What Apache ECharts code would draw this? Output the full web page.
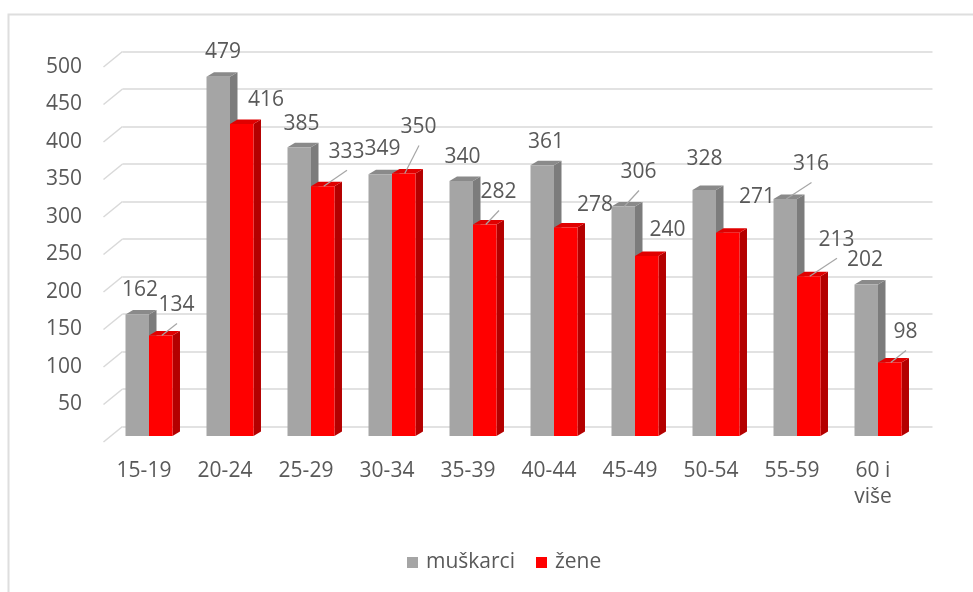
<!DOCTYPE html>
<html>
<head>
<meta charset="utf-8">
<script src="https://cdn.jsdelivr.net/npm/echarts@6/dist/echarts.min.js"></script>
<style>
html,body{margin:0;padding:0;background:#fff;}
#chart{width:973px;height:592px;}
</style>
</head>
<body>
<div id="chart"></div>
<script>
// ---- data ----
const categories = ['15-19','20-24','25-29','30-34','35-39','40-44','45-49','50-54','55-59','60 i\nviše'];
const muskarci = [162,479,385,349,340,361,306,328,316,202];
const zene     = [134,416,333,350,282,278,240,271,213,98];
const yTicks   = [0,50,100,150,200,250,300,350,400,450,500];
const seriesNames = ['muškarci','žene'];

// ---- layout / style (label nudges relative to category centre & bar top, in px) ----
const labelNudgeM = [[-10,-24],[-8,-25],[-10.5,-23],[-10.5,-25],[-11.5,-23.5],[-9,-23],[2.5,-34],[-12.5,-30.5],[13,-34.5],[-14,-24]];
const leaderM     = [0,0,0,0,0,0,1,0,1,0];
const labelNudgeZ = [[26.5,-30],[35,-24],[34.5,-34],[25.5,-46],[24.5,-32],[40,-22.5],[31.5,-25.5],[40,-36],[38.5,-36],[26.5,-30]];
const leaderZ     = [1,0,1,1,1,0,0,0,1,1];

const FONT = 'Open Sans';
const TXT = '#595959';
const GRID = '#d9d9d9';
const DEPTH = [7.5,-4.5];
const palette = [
  {front:'#a5a5a5', side:'#7c7c7c', top:'#8a8a8a'},
  {front:'#ff0000', side:'#b40000', top:'#e00000'}
];

function barRender(kind){
  return function(params, api){
    const i = api.value(0), v = api.value(1);
    const base = api.coord([i,0]);
    const top = api.coord([i,v]);
    const band = api.size([1,0])[0];
    const w = band*0.29;
    const x0 = kind===0 ? base[0]-w-1 : base[0]-1;
    const x1 = x0 + w;
    const b = base[1], t = top[1];
    const c = palette[kind];
    const dx = DEPTH[0], dy = DEPTH[1];
    return {type:'group', children:[
      {type:'polygon', shape:{points:[[x1,t],[x1+dx,t+dy],[x1+dx,b+dy],[x1,b]]}, style:{fill:c.side}},
      {type:'polygon', shape:{points:[[x0,t],[x0+dx,t+dy],[x1+dx,t+dy],[x1,t]]}, style:{fill:c.top}},
      {type:'rect', shape:{x:x0,y:t,width:w,height:b-t}, style:{fill:c.front}}
    ]};
  };
}

function labelRender(kind){
  const nudges = kind===0 ? labelNudgeM : labelNudgeZ;
  const leaders = kind===0 ? leaderM : leaderZ;
  return function(params, api){
    const i = api.value(0), v = api.value(1);
    const base = api.coord([i,0]);
    const top = api.coord([i,v]);
    const band = api.size([1,0])[0];
    const w = band*0.29;
    const barC = kind===0 ? base[0]-1-w/2 : base[0]-1+w/2;
    const lx = base[0] + nudges[i][0];
    const ly = top[1] + nudges[i][1];
    const children = [
      {type:'text', z2:100, style:{text:String(v), x:lx, y:ly, fill:TXT, fontSize:21, fontFamily:FONT, align:'center', verticalAlign:'middle'}}
    ];
    if (leaders[i]) {
      children.push({type:'line', z2:90, shape:{x1:barC+1, y1:top[1], x2:lx+0.5, y2:ly+18}, style:{stroke:'#a6a6a6', lineWidth:1.2}});
    }
    return {type:'group', children};
  };
}

function diagRender(params, api){
  const p = api.coord([0, api.value(1)]);
  const x = params.coordSys.x;
  return {type:'line', shape:{x1:x, y1:p[1], x2:x+19, y2:p[1]-15.5}, style:{stroke:GRID, lineWidth:1.5}};
}

const chart = echarts.init(document.getElementById('chart'), null, {renderer:'canvas'});
const option = {
  animation:false,
  backgroundColor:'#fff',
  graphic:[{type:'rect', shape:{x:8.5,y:14.5,width:1200,height:800}, style:{fill:'none', stroke:'#dedede', lineWidth:2}, silent:true, z:-10}],
  grid:[
    {left:103.5, top:67, width:810, height:375},      // front plane (labels)
    {left:122.5, top:51.5, width:810, height:375},    // back wall (gridlines)
    {left:109.5, top:61, width:810, height:375}       // bar plane
  ],
  xAxis:[
    {gridIndex:0, type:'category', data:categories, axisLine:{show:false}, axisTick:{show:false},
     axisLabel:{color:TXT, fontSize:21, fontFamily:FONT, margin:16, lineHeight:26, interval:0}},
    {gridIndex:1, type:'category', data:categories, show:false},
    {gridIndex:2, type:'category', data:categories, show:false}
  ],
  yAxis:[
    {gridIndex:0, type:'value', min:0, max:500, interval:50, axisLine:{show:false}, axisTick:{show:false}, splitLine:{show:false},
     axisLabel:{color:TXT, fontSize:21, fontFamily:FONT, margin:21.5, formatter:v=> v===0 ? '' : String(v)}},
    {gridIndex:1, type:'value', min:0, max:500, interval:50, axisLine:{show:false}, axisTick:{show:false}, axisLabel:{show:false},
     splitLine:{show:true, lineStyle:{color:GRID, width:1.5}}},
    {gridIndex:2, type:'value', min:0, max:500, interval:50, show:false}
  ],
  legend:{
    data:seriesNames, icon:'rect', itemWidth:11, itemHeight:11, itemGap:21, left:402, top:547,
    textStyle:{color:TXT, fontSize:21, fontFamily:FONT, padding:[0,0,0,3]}
  },
  series:[
    {type:'custom', xAxisIndex:0, yAxisIndex:0, renderItem:diagRender, data:yTicks.map(v=>[0,v]), z:1, silent:true},
    {type:'custom', name:seriesNames[0], xAxisIndex:2, yAxisIndex:2, renderItem:barRender(0), itemStyle:{color:palette[0].front},
     data:muskarci.map((v,i)=>[i,v]), encode:{x:0,y:1}, z:2},
    {type:'custom', name:seriesNames[1], xAxisIndex:2, yAxisIndex:2, renderItem:barRender(1), itemStyle:{color:palette[1].front},
     data:zene.map((v,i)=>[i,v]), encode:{x:0,y:1}, z:3},
    {type:'custom', xAxisIndex:2, yAxisIndex:2, renderItem:labelRender(0), data:muskarci.map((v,i)=>[i,v]), encode:{x:0,y:1}, z:10, silent:true},
    {type:'custom', xAxisIndex:2, yAxisIndex:2, renderItem:labelRender(1), data:zene.map((v,i)=>[i,v]), encode:{x:0,y:1}, z:10, silent:true}
  ]
};
chart.setOption(option);
</script>
</body>
</html>
